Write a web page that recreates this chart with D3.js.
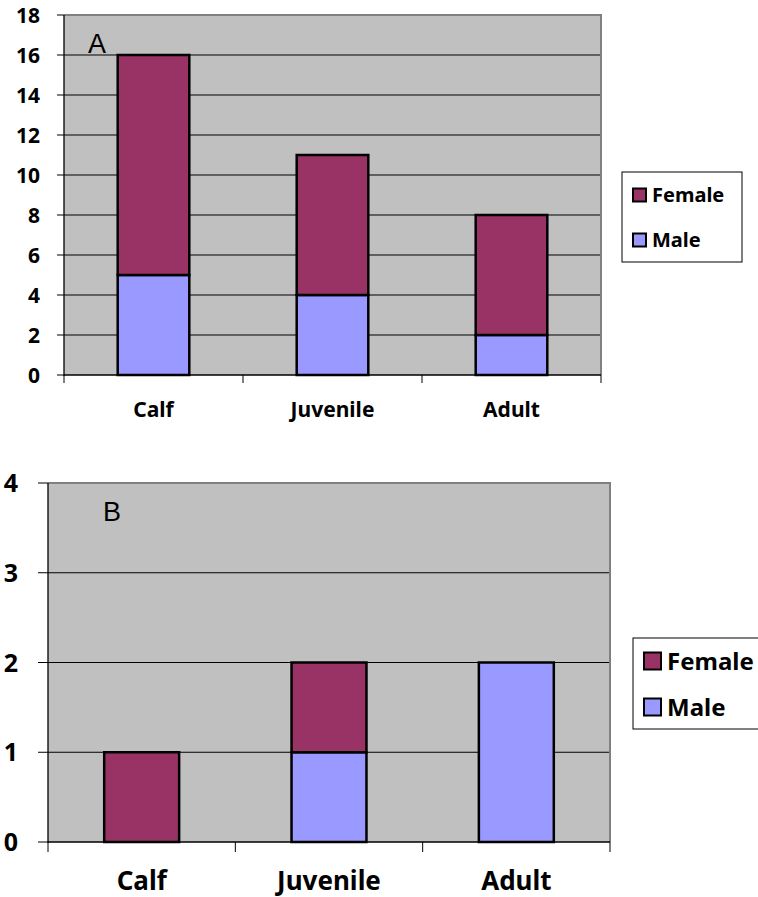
<!DOCTYPE html>
<html>
<head>
<meta charset="utf-8">
<script src="https://cdn.jsdelivr.net/npm/d3@7"></script>
<style>
  html, body { margin: 0; padding: 0; background: #fff; }
  svg { display: block; }
</style>
</head>
<body>
<svg id="chart" width="758" height="897"></svg>
<script>
// ---- Data ----
const categories = ["Calf", "Juvenile", "Adult"];
const seriesNames = ["Female", "Male"];
const maleA = [5, 4, 2];
const femaleA = [11, 7, 6];
const ticksA = [0, 2, 4, 6, 8, 10, 12, 14, 16, 18];
const maleB = [0, 1, 2];
const femaleB = [1, 1, 0];
const ticksB = [0, 1, 2, 3, 4];

const colors = { Female: "#993366", Male: "#9999FF" };
const svg = d3.select("#chart");
const FONT = "'Noto Sans', 'DejaVu Sans', sans-serif";

function drawPanel(cfg) {
  const { left, right, top, bottom, yMax, ticks, male, female, label,
          yFont, yLabelRight, yTickLen, xFont, xLabelBaseline, xTickLen,
          panelLabel, legend } = cfg;
  const g = svg.append("g");
  const x = d3.scaleBand().domain(categories).range([left, right])
    .paddingInner(0.6).paddingOuter(0.3);
  const y = d3.scaleLinear().domain([0, yMax]).range([bottom, top]);

  // plot area
  g.append("rect").attr("x", left).attr("y", top)
    .attr("width", right - left).attr("height", bottom - top)
    .attr("fill", "#C0C0C0");

  // gridlines
  g.selectAll(".grid").data(ticks.filter(t => t > 0 && t < yMax)).enter()
    .append("line")
    .attr("x1", left).attr("x2", right)
    .attr("y1", d => y(d)).attr("y2", d => y(d))
    .attr("stroke", "#000").attr("stroke-width", 1);

  // frame top & right (gray)
  g.append("path")
    .attr("d", `M${left},${top}H${right}V${bottom}`)
    .attr("fill", "none").attr("stroke", "#808080").attr("stroke-width", 2);

  // bars
  const stackData = categories.map((c, i) => ({ c, Male: male[i], Female: female[i] }));
  const stack = d3.stack().keys(["Male", "Female"])(stackData);
  stack.forEach(layer => {
    g.selectAll(null).data(layer.filter(d => d[1] - d[0] > 0)).enter()
      .append("rect")
      .attr("x", d => x(d.data.c))
      .attr("width", x.bandwidth())
      .attr("y", d => y(d[1]))
      .attr("height", d => y(d[0]) - y(d[1]))
      .attr("fill", colors[layer.key])
      .attr("stroke", "#000").attr("stroke-width", 2.5);
  });

  // y axis line + ticks
  g.append("line").attr("x1", left).attr("x2", left)
    .attr("y1", top).attr("y2", bottom + 1)
    .attr("stroke", "#000").attr("stroke-width", 1.3);
  g.selectAll(".yt").data(ticks).enter().append("line")
    .attr("x1", left - yTickLen).attr("x2", left)
    .attr("y1", d => y(d)).attr("y2", d => y(d))
    .attr("stroke", "#000").attr("stroke-width", 1);
  g.selectAll(".yl").data(ticks).enter().append("text")
    .attr("x", yLabelRight).attr("y", d => y(d))
    .attr("dy", "0.36em")
    .attr("text-anchor", "end")
    .attr("font-family", FONT).attr("font-weight", "bold")
    .attr("font-size", yFont)
    .text(d => d);

  // x axis line + ticks at category boundaries
  g.append("line").attr("x1", left).attr("x2", right)
    .attr("y1", bottom).attr("y2", bottom)
    .attr("stroke", "#000").attr("stroke-width", 1.3);
  const bounds = d3.range(categories.length + 1).map(i => left + i * x.step());
  g.selectAll(".xt").data(bounds).enter().append("line")
    .attr("x1", d => d).attr("x2", d => d)
    .attr("y1", bottom).attr("y2", bottom + xTickLen)
    .attr("stroke", "#000").attr("stroke-width", 1);
  g.selectAll(".xl").data(categories).enter().append("text")
    .attr("x", d => x(d) + x.bandwidth() / 2)
    .attr("y", xLabelBaseline)
    .attr("text-anchor", "middle")
    .attr("font-family", FONT).attr("font-weight", "bold")
    .attr("font-size", xFont)
    .text(d => d);

  // panel label
  g.append("text").attr("x", panelLabel.x).attr("y", panelLabel.y)
    .attr("font-family", "'Liberation Sans', Arial, sans-serif")
    .attr("font-size", panelLabel.size)
    .text(label);

  // legend
  const lg = g.append("g");
  lg.append("rect").attr("x", legend.x).attr("y", legend.y)
    .attr("width", legend.w).attr("height", legend.h)
    .attr("fill", "#fff").attr("stroke", "#000").attr("stroke-width", 1);
  seriesNames.forEach((s, i) => {
    const cy = legend.y + legend.firstY + i * legend.gap;
    lg.append("rect").attr("x", legend.x + legend.sx).attr("y", cy - legend.sw / 2)
      .attr("width", legend.sw).attr("height", legend.sw)
      .attr("fill", colors[s]).attr("stroke", "#000").attr("stroke-width", 2);
    lg.append("text").attr("x", legend.x + legend.sx + legend.sw + legend.tx)
      .attr("y", cy).attr("dy", "0.36em")
      .attr("font-family", FONT).attr("font-weight", "bold")
      .attr("font-size", legend.size)
      .text(s);
  });
}

drawPanel({
  left: 64, right: 601, top: 15, bottom: 375, yMax: 18, ticks: ticksA,
  male: maleA, female: femaleA, label: "A",
  yFont: 21, yLabelRight: 40, yTickLen: 7,
  xFont: 21, xLabelBaseline: 417, xTickLen: 8,
  panelLabel: { x: 88, y: 53, size: 27 },
  legend: { x: 622, y: 172, w: 120, h: 90, firstY: 23, gap: 45, sx: 11, sw: 13, tx: 6,
            size: 20 }
});

drawPanel({
  left: 48, right: 610, top: 483, bottom: 842, yMax: 4, ticks: ticksB,
  male: maleB, female: femaleB, label: "B",
  yFont: 25, yLabelRight: 18, yTickLen: 10,
  xFont: 26, xLabelBaseline: 890, xTickLen: 10,
  panelLabel: { x: 103, y: 521, size: 27 },
  legend: { x: 633, y: 638, w: 140, h: 91, firstY: 23, gap: 46, sx: 11, sw: 17, tx: 6,
            size: 24 }
});
</script>
</body>
</html>
